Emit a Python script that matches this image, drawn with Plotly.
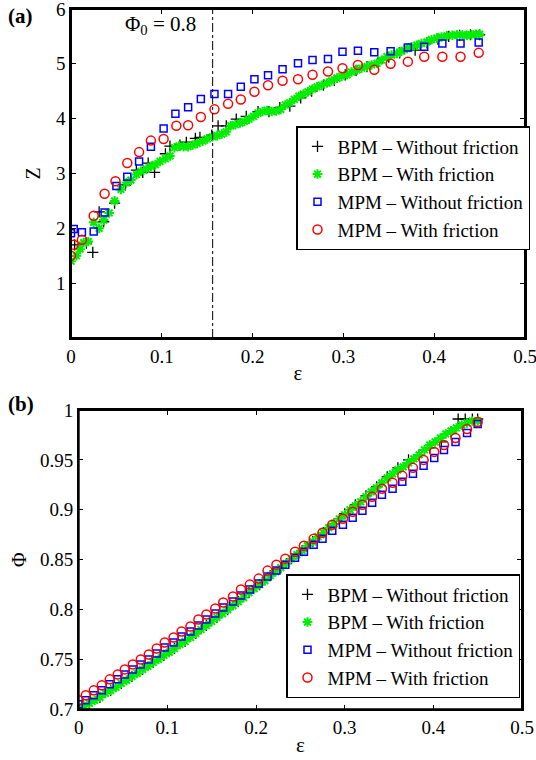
import plotly.graph_objects as go

# ---------------- Panel (a): coordination number Z vs strain ----------------
bpm_nf_a_eps = [0.000, 0.004, 0.017, 0.024, 0.031, 0.036, 0.048, 0.060, 0.072, 0.079,
                0.085, 0.092, 0.104, 0.109, 0.120, 0.127, 0.137, 0.142, 0.155, 0.162,
                0.171, 0.182, 0.193, 0.206, 0.218, 0.230, 0.241, 0.253, 0.265, 0.278,
                0.290, 0.302, 0.314, 0.326, 0.338, 0.350, 0.362, 0.379, 0.392, 0.404,
                0.416, 0.428, 0.440, 0.450]
bpm_nf_a_Z = [1.50, 1.70, 1.73, 1.56, 2.30, 2.12, 2.46, 2.79, 3.06, 3.02,
              3.19, 3.02, 3.36, 3.50, 3.52, 3.57, 3.64, 3.66, 3.70, 3.87,
              3.87, 3.99, 4.04, 4.13, 4.13, 4.20, 4.23, 4.38, 4.50, 4.61,
              4.70, 4.80, 4.88, 4.95, 5.02, 5.12, 5.20, 5.25, 5.38, 5.45,
              5.50, 5.52, 5.53, 5.53]

bpm_f_a_eps = [0.000, 0.006, 0.010, 0.014, 0.019, 0.025, 0.031, 0.036, 0.042, 0.048,
               0.055, 0.061, 0.066, 0.072, 0.077, 0.083, 0.088, 0.093, 0.098, 0.104,
               0.109, 0.114, 0.119, 0.124, 0.129, 0.134, 0.139, 0.145, 0.150, 0.156,
               0.161, 0.166, 0.171, 0.176, 0.181, 0.186, 0.191, 0.196, 0.201, 0.206,
               0.211, 0.216, 0.221, 0.226, 0.231, 0.236, 0.241, 0.246, 0.251, 0.256,
               0.261, 0.266, 0.271, 0.276, 0.282, 0.287, 0.293, 0.298, 0.304, 0.309,
               0.315, 0.320, 0.326, 0.331, 0.337, 0.342, 0.348, 0.353, 0.359, 0.364,
               0.370, 0.375, 0.381, 0.386, 0.392, 0.397, 0.403, 0.408, 0.414, 0.420,
               0.425, 0.431, 0.436, 0.441, 0.446, 0.450]
bpm_f_a_Z = [1.40, 1.50, 1.62, 1.74, 1.76, 2.11, 2.00, 2.15, 2.28, 2.50,
             2.71, 2.83, 2.88, 2.98, 3.04, 3.08, 3.13, 3.16, 3.22, 3.27,
             3.32, 3.47, 3.50, 3.49, 3.49, 3.52, 3.55, 3.59, 3.63, 3.67,
             3.69, 3.72, 3.76, 3.87, 3.89, 3.92, 3.95, 3.99, 4.04, 4.10,
             4.13, 4.15, 4.13, 4.14, 4.17, 4.25, 4.29, 4.35, 4.41, 4.45,
             4.49, 4.54, 4.58, 4.61, 4.65, 4.69, 4.74, 4.77, 4.80, 4.85,
             4.89, 4.92, 4.95, 4.98, 5.01, 5.07, 5.13, 5.16, 5.19, 5.23,
             5.28, 5.31, 5.34, 5.37, 5.40, 5.44, 5.47, 5.49, 5.51, 5.52,
             5.53, 5.53, 5.52, 5.53, 5.54, 5.54]

mpm_nf_a_eps = [0.000, 0.003, 0.012, 0.025, 0.037, 0.050, 0.062, 0.075, 0.088, 0.102,
                0.115, 0.129, 0.143, 0.158, 0.173, 0.187, 0.202, 0.217, 0.233, 0.250,
                0.266, 0.283, 0.299, 0.316, 0.334, 0.352, 0.371, 0.389, 0.409, 0.429,
                0.449]
mpm_nf_a_Z = [1.91, 1.99, 1.93, 1.94, 2.29, 2.77, 2.94, 3.22, 3.49, 3.82,
              4.09, 4.21, 4.36, 4.45, 4.45, 4.58, 4.72, 4.79, 4.90, 5.01,
              5.07, 5.09, 5.22, 5.24, 5.21, 5.23, 5.30, 5.31, 5.37, 5.37,
              5.39]

mpm_f_a_eps = [0.000, 0.003, 0.012, 0.025, 0.037, 0.049, 0.062, 0.075, 0.088, 0.102,
               0.116, 0.129, 0.143, 0.158, 0.173, 0.187, 0.202, 0.217, 0.233, 0.250,
               0.266, 0.283, 0.299, 0.316, 0.334, 0.352, 0.371, 0.389, 0.409, 0.429,
               0.449]
mpm_f_a_Z = [1.50, 1.70, 1.79, 2.23, 2.63, 2.86, 3.19, 3.39, 3.60, 3.63,
             3.87, 3.88, 4.03, 4.17, 4.27, 4.35, 4.49, 4.61, 4.69, 4.72,
             4.80, 4.86, 4.92, 4.98, 4.89, 5.00, 5.04, 5.13, 5.13, 5.13,
             5.20]

phi0_eps = 0.156  # strain at which Phi = 0.8

# ---------------- Panel (b): packing fraction Phi vs strain ----------------
bpm_nf_b_eps = [0.000, 0.012, 0.024, 0.036, 0.048, 0.060, 0.072, 0.084, 0.096, 0.108,
                0.120, 0.132, 0.144, 0.156, 0.168, 0.180, 0.192, 0.204, 0.216, 0.228,
                0.240, 0.252, 0.264, 0.276, 0.288, 0.300, 0.312, 0.324, 0.336, 0.348,
                0.360, 0.372, 0.384, 0.396, 0.409, 0.420, 0.428, 0.436, 0.444, 0.450]
bpm_nf_b_phi = [0.700, 0.706, 0.712, 0.719, 0.726, 0.733, 0.740, 0.747, 0.754, 0.761,
                0.768, 0.776, 0.784, 0.792, 0.800, 0.808, 0.817, 0.825, 0.834, 0.842,
                0.851, 0.859, 0.868, 0.877, 0.886, 0.896, 0.905, 0.914, 0.923, 0.933,
                0.942, 0.950, 0.955, 0.962, 0.968, 0.978, 0.991, 0.991, 0.991, 0.991]

bpm_f_b_eps = [0.000, 0.006, 0.012, 0.018, 0.024, 0.030, 0.036, 0.042, 0.048, 0.054,
               0.060, 0.066, 0.072, 0.078, 0.084, 0.090, 0.096, 0.102, 0.108, 0.114,
               0.120, 0.126, 0.132, 0.138, 0.144, 0.150, 0.156, 0.162, 0.168, 0.174,
               0.180, 0.186, 0.192, 0.198, 0.204, 0.210, 0.216, 0.222, 0.228, 0.234,
               0.240, 0.246, 0.252, 0.258, 0.264, 0.270, 0.276, 0.282, 0.288, 0.294,
               0.300, 0.306, 0.312, 0.318, 0.324, 0.330, 0.336, 0.342, 0.348, 0.354,
               0.360, 0.366, 0.372, 0.378, 0.384, 0.390, 0.396, 0.402, 0.408, 0.414,
               0.420, 0.426, 0.432, 0.438, 0.444, 0.450]
bpm_f_b_phi = [0.700, 0.703, 0.706, 0.709, 0.712, 0.716, 0.719, 0.722, 0.726, 0.729,
               0.733, 0.736, 0.740, 0.743, 0.747, 0.750, 0.754, 0.757, 0.761, 0.765,
               0.768, 0.772, 0.776, 0.780, 0.784, 0.788, 0.792, 0.796, 0.800, 0.804,
               0.808, 0.812, 0.817, 0.821, 0.825, 0.829, 0.834, 0.838, 0.842, 0.846,
               0.851, 0.855, 0.859, 0.864, 0.868, 0.873, 0.877, 0.882, 0.886, 0.891,
               0.895, 0.900, 0.904, 0.908, 0.913, 0.918, 0.922, 0.927, 0.932, 0.936,
               0.940, 0.943, 0.947, 0.951, 0.955, 0.960, 0.965, 0.968, 0.972, 0.976,
               0.979, 0.982, 0.985, 0.987, 0.989, 0.989]

mpm_nf_b_eps = [0.000, 0.008, 0.017, 0.026, 0.035, 0.044, 0.052, 0.061, 0.070, 0.079,
                0.088, 0.097, 0.107, 0.116, 0.126, 0.135, 0.144, 0.154, 0.163, 0.174,
                0.183, 0.193, 0.203, 0.213, 0.223, 0.233, 0.244, 0.254, 0.265, 0.275,
                0.286, 0.298, 0.309, 0.320, 0.331, 0.342, 0.354, 0.365, 0.377, 0.389,
                0.401, 0.412, 0.425, 0.438, 0.450]
mpm_nf_b_phi = [0.705, 0.709, 0.714, 0.719, 0.725, 0.730, 0.735, 0.740, 0.745, 0.750,
                0.756, 0.762, 0.767, 0.773, 0.778, 0.784, 0.790, 0.796, 0.802, 0.808,
                0.814, 0.820, 0.826, 0.833, 0.839, 0.845, 0.852, 0.858, 0.865, 0.871,
                0.879, 0.885, 0.892, 0.899, 0.907, 0.915, 0.921, 0.928, 0.936, 0.944,
                0.952, 0.960, 0.968, 0.977, 0.986]

mpm_f_b_eps = [0.000, 0.008, 0.017, 0.026, 0.035, 0.044, 0.052, 0.061, 0.070, 0.079,
               0.088, 0.097, 0.107, 0.116, 0.126, 0.135, 0.144, 0.154, 0.163, 0.174,
               0.183, 0.193, 0.203, 0.213, 0.223, 0.233, 0.244, 0.254, 0.265, 0.275,
               0.286, 0.298, 0.309, 0.320, 0.331, 0.342, 0.354, 0.365, 0.377, 0.389,
               0.401, 0.412, 0.425, 0.438, 0.450]
mpm_f_b_phi = [0.709, 0.714, 0.719, 0.724, 0.730, 0.735, 0.740, 0.745, 0.750, 0.755,
               0.761, 0.767, 0.772, 0.778, 0.783, 0.790, 0.795, 0.801, 0.807, 0.813,
               0.820, 0.825, 0.831, 0.839, 0.845, 0.851, 0.858, 0.864, 0.871, 0.877,
               0.885, 0.891, 0.898, 0.905, 0.913, 0.921, 0.927, 0.934, 0.942, 0.950,
               0.958, 0.965, 0.972, 0.981, 0.988]

series_names = ["BPM \u2013 Without friction", "BPM \u2013 With friction",
                "MPM \u2013 Without friction", "MPM \u2013 With friction"]

x_ticks = [0, 0.1, 0.2, 0.3, 0.4, 0.5]
x_ticklabels = ["0", "0.1", "0.2", "0.3", "0.4", "0.5"]
za_ticks = [1, 2, 3, 4, 5, 6]
phi_ticks = [0.7, 0.75, 0.8, 0.85, 0.9, 0.95, 1.0]
phi_ticklabels = ["0.7", "0.75", "0.8", "0.85", "0.9", "0.95", "1"]

FONT = "Liberation Serif"

styles = [
    dict(symbol="cross-thin-open", size=8, color="black", line=dict(color="black", width=1.3)),
    dict(symbol="asterisk-open", size=8, color="#00ee00", line=dict(color="#00ee00", width=2)),
    dict(symbol="square-open", size=7, color="#0000ff", line=dict(color="#0000ff", width=1.5)),
    dict(symbol="circle-open", size=9, color="#ff0000", line=dict(color="#ff0000", width=1.5)),
]

fig = go.Figure()

a_data = [(bpm_nf_a_eps, bpm_nf_a_Z), (bpm_f_a_eps, bpm_f_a_Z),
          (mpm_nf_a_eps, mpm_nf_a_Z), (mpm_f_a_eps, mpm_f_a_Z)]
b_data = [(bpm_nf_b_eps, bpm_nf_b_phi), (bpm_f_b_eps, bpm_f_b_phi),
          (mpm_nf_b_eps, mpm_nf_b_phi), (mpm_f_b_eps, mpm_f_b_phi)]

for (xs, ys), name, st in zip(a_data, series_names, styles):
    fig.add_trace(go.Scatter(x=xs, y=ys, mode="markers", name=name, marker=st,
                             xaxis="x", yaxis="y", legend="legend"))
for (xs, ys), name, st in zip(b_data, series_names, styles):
    fig.add_trace(go.Scatter(x=xs, y=ys, mode="markers", name=name, marker=st,
                             xaxis="x2", yaxis="y2", legend="legend2"))

W, H = 536, 760
def px(v):
    return v / W
def py(v):
    return 1 - v / H

dom_a_x = [px(71), px(525)]
dom_a_y = [py(338), py(9)]
dom_b_x = [px(78.7), px(522)]
dom_b_y = [py(709.3), py(410)]

axis_common = dict(showline=True, linecolor="black", linewidth=1.5, mirror="ticks",
                   ticks="inside", ticklen=5, tickwidth=1, tickcolor="black", showgrid=False,
                   zeroline=False, automargin=False, ticklabeloverflow="allow",
                   tickfont=dict(family=FONT, size=19, color="black"))

fig.update_layout(
    width=W, height=H,
    margin=dict(l=0, r=0, t=0, b=0),
    paper_bgcolor="white", plot_bgcolor="white",
    font=dict(family=FONT, color="black", size=19),
    xaxis=dict(domain=dom_a_x, range=[0, 0.5], tickvals=x_ticks,
               ticktext=x_ticklabels, anchor="y",
               title=dict(text="\u03b5", standoff=0, font=dict(size=21)), **axis_common),
    yaxis=dict(domain=dom_a_y, range=[0, 6], tickvals=za_ticks, anchor="x",
               title=dict(text="Z", standoff=10, font=dict(size=20)), **axis_common),
    xaxis2=dict(domain=dom_b_x, range=[0, 0.5], tickvals=x_ticks,
                ticktext=x_ticklabels, anchor="y2",
                title=dict(text="\u03b5", standoff=0, font=dict(size=21)), **axis_common),
    yaxis2=dict(domain=dom_b_y, range=[0.7, 1.0], tickvals=phi_ticks,
                ticktext=phi_ticklabels, anchor="x2",
                title=dict(text="\u03a6", standoff=8, font=dict(size=20)), **axis_common),
    legend=dict(x=px(296), y=py(126), xanchor="left", yanchor="top",
                bgcolor="white", bordercolor="black", borderwidth=1.5,
                tracegroupgap=0,
                font=dict(family=FONT, size=19, color="black")),
    legend2=dict(x=px(286), y=py(574), xanchor="left", yanchor="top",
                 bgcolor="white", bordercolor="black", borderwidth=1.5,
                 font=dict(family=FONT, size=19, color="black")),
    showlegend=True,
)

# plot-area frames (paper coordinates of the subplot domains)
for dx, dy in ((dom_a_x, dom_a_y), (dom_b_x, dom_b_y)):
    fig.add_shape(type="rect", xref="paper", yref="paper",
                  x0=dx[0], x1=dx[1], y0=dy[0], y1=dy[1],
                  line=dict(color="black", width=2), fillcolor="rgba(0,0,0,0)",
                  layer="above")

fig.add_shape(type="line", xref="x", yref="y", x0=phi0_eps, x1=phi0_eps, y0=0, y1=6,
              line=dict(color="black", width=1, dash="dashdot"))

fig.add_annotation(text="\u03a6<sub>0</sub> = 0.8", xref="paper", yref="paper",
                   x=px(123), y=py(10), xanchor="left", yanchor="top", showarrow=False,
                   font=dict(family=FONT, size=21, color="black"))
fig.add_annotation(text="<b>(a)</b>", xref="paper", yref="paper",
                   x=px(6), y=py(2), xanchor="left", yanchor="top", showarrow=False,
                   font=dict(family=FONT, size=21, color="black"))
fig.add_annotation(text="<b>(b)</b>", xref="paper", yref="paper",
                   x=px(6), y=py(390), xanchor="left", yanchor="top", showarrow=False,
                   font=dict(family=FONT, size=21, color="black"))

fig.write_html("out.html", config={"displayModeBar": False},
               post_script="document.body.style.margin='0';document.body.style.overflow='hidden';")
